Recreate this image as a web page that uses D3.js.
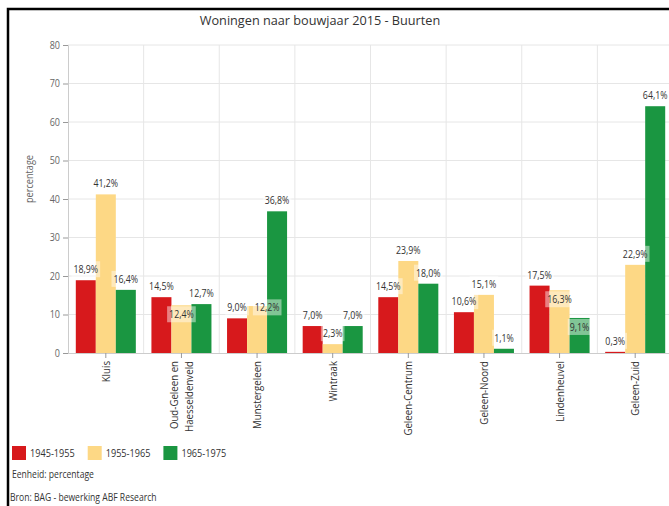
<!DOCTYPE html>
<html>
<head>
<meta charset="utf-8">
<script src="https://cdn.jsdelivr.net/npm/d3@7"></script>
<style>
  body { margin: 0; background: #fff; }
  svg { display: block; font-family: "Open Sans", "DejaVu Sans", sans-serif; }
</style>
</head>
<body>
<script>
// Data
const categories = ["Kluis", "Oud-Geleen en Haesseldenveld", "Munstergeleen", "Wintraak",
    "Geleen-Centrum", "Geleen-Noord", "Lindenheuvel", "Geleen-Zuid"];
const seriesNames = ["1945-1955", "1955-1965", "1965-1975"];
const values1945 = [18.9, 14.5, 9.0, 7.0, 14.5, 10.6, 17.5, 0.3];
const values1955 = [41.2, 12.4, 12.2, 2.3, 23.9, 15.1, 16.3, 22.9];
const values1965 = [16.4, 12.7, 36.8, 7.0, 18.0, 1.1, 9.1, 64.1];
const yTicks = [0, 10, 20, 30, 40, 50, 60, 70, 80];
const colors = ["#d7191c", "#fdd885", "#1a9641"];

const seriesValues = [values1945, values1955, values1965];

// Dimensions
const width = 669;
const height = 506;
const margin = { top: 45, left: 68, bottom: 153 };
const plotWidth = 605;
const plotHeight = height - margin.top - margin.bottom;

const svg = d3.select("body")
    .append("svg")
    .attr("width", width)
    .attr("height", height);

// The source font is narrow, squeeze Open Sans a bit.
// Returns the squeezed width of the last text.
function condense(sel, k) {
    let out = 0;
    sel.each(function() {
        const len = this.getComputedTextLength();
        out = len * k;
        d3.select(this)
            .attr("textLength", out)
            .attr("lengthAdjust", "spacingAndGlyphs");
    });
    return out;
}

// Scales
const x = d3.scaleBand()
    .domain(categories)
    .range([margin.left, margin.left + plotWidth]);

const xInner = d3.scaleBand()
    .domain(seriesNames)
    .range([0, x.bandwidth()])
    .paddingOuter(0.39)
    .paddingInner(0);

const y = d3.scaleLinear()
    .domain([0, 80])
    .range([margin.top + plotHeight, margin.top]);

// Title
condense(svg.append("text")
    .attr("x", 320)
    .attr("y", 25)
    .attr("text-anchor", "middle")
    .attr("font-size", 13.5)
    .attr("fill", "#333")
    .text("Woningen naar bouwjaar 2015 - Buurten"), 0.94);

// Grid lines
svg.append("g")
    .selectAll("line")
    .data(yTicks.filter(d => d > 0))
    .join("line")
    .attr("x1", margin.left)
    .attr("x2", width)
    .attr("y1", d => y(d))
    .attr("y2", d => y(d))
    .attr("stroke", "#e6e6e6");

svg.append("g")
    .selectAll("line")
    .data(categories)
    .join("line")
    .attr("x1", d => x(d) + x.bandwidth())
    .attr("x2", d => x(d) + x.bandwidth())
    .attr("y1", margin.top)
    .attr("y2", y(0))
    .attr("stroke", "#e6e6e6");

// Y axis
const yAxis = svg.append("g")
    .attr("transform", `translate(${margin.left},0)`)
    .call(d3.axisLeft(y).tickValues(yTicks).tickSize(5).tickPadding(3));
yAxis.select(".domain").attr("stroke", "#ccc");
yAxis.selectAll(".tick line").attr("stroke", "#999");
yAxis.selectAll(".tick text")
    .attr("font-size", 10)
    .attr("fill", "#666")
    .attr("font-family", "Open Sans, sans-serif")
    .each(function() { condense(d3.select(this), 0.9); });

condense(svg.append("text")
    .attr("transform", `translate(33,179) rotate(-90)`)
    .attr("text-anchor", "middle")
    .attr("font-size", 11)
    .attr("fill", "#666")
    .text("percentage"), 0.83);

// Bars
const groups = svg.append("g")
    .selectAll("g")
    .data(categories)
    .join("g")
    .attr("transform", d => `translate(${x(d)},0)`);

groups.selectAll("rect")
    .data((d, i) => seriesNames.map((s, j) => ({ s, j, v: seriesValues[j][i] })))
    .join("rect")
    .attr("x", d => xInner(d.s))
    .attr("width", xInner.bandwidth())
    .attr("y", d => y(d.v))
    .attr("height", d => y(0) - y(d.v))
    .attr("fill", d => colors[d.j]);

// X axis
const xAxis = svg.append("g")
    .attr("transform", `translate(0,${y(0)})`)
    .call(d3.axisBottom(x).tickSize(5).tickFormat(""));
xAxis.select(".domain").attr("stroke", "#ccc").attr("d", `M${margin.left},0.5H${width}`);
xAxis.selectAll(".tick line").attr("stroke", "#999");

// Rotated category labels
const wrap = name => name.length > 16
    ? [name.slice(0, name.lastIndexOf(" ")), name.slice(name.lastIndexOf(" ") + 1)]
    : [name];

svg.append("g")
    .selectAll("text")
    .data(categories)
    .join("text")
    .attr("transform", d => `translate(${x(d) + x.bandwidth() / 2},${y(0) + 8}) rotate(-90)`)
    .attr("text-anchor", "end")
    .attr("font-size", 11)
    .attr("fill", "#333")
    .each(function(d) {
        const lines = wrap(d);
        const t = d3.select(this);
        lines.forEach((line, k) => {
            condense(t.append("tspan")
                .attr("x", 0)
                .attr("y", 4 + (k - (lines.length - 1) / 2) * 15)
                .text(line), 0.88);
        });
    });

// Value labels: above the bar, moved inside when they bump into a neighbour,
// and pushed sideways if that still collides
const fmt = v => v.toFixed(1).replace(".", ",") + "%";
const labelLayer = svg.append("g");

categories.forEach((cat, i) => {
    const placed = [];
    seriesNames.forEach((s, j) => {
        const v = seriesValues[j][i];
        let cx = x(cat) + xInner(s) + xInner.bandwidth() / 2;
        const g = labelLayer.append("g");
        const rect = g.append("rect").attr("fill", "rgba(255,255,255,0.45)");
        const txt = g.append("text")
            .attr("text-anchor", "middle")
            .attr("font-size", 11)
            .attr("fill", "#333")
            .text(fmt(v));
        const w = condense(txt, 0.8);
        let cy = y(v) - 11;
        const hits = p => Math.abs(p.cx - cx) < (p.w + w) / 2 + 4 && Math.abs(p.cy - cy) < 14;
        if (placed.some(hits)) {
            cy = y(v) + 9;
            const other = placed.find(hits);
            if (other) {
                cy = other.cy;
                cx = other.cx + (other.w + w) / 2 + 8;
            }
        }
        txt.attr("x", cx).attr("y", cy + 4);
        rect.attr("x", cx - w / 2 - 2).attr("y", cy - 8).attr("width", w + 4).attr("height", 16);
        placed.push({ cx, cy, w });
    });
});

// Legend
let lx = 12;
seriesNames.forEach((name, i) => {
    const g = svg.append("g").attr("transform", `translate(${lx},446)`);
    g.append("rect")
        .attr("width", 14)
        .attr("height", 14)
        .attr("fill", colors[i]);
    const w = condense(g.append("text")
        .attr("x", 18)
        .attr("y", 11)
        .attr("font-size", 11)
        .attr("fill", "#333")
        .text(name), 0.83);
    lx += 18 + w + 13;
});

condense(svg.append("text")
    .attr("x", 12)
    .attr("y", 478)
    .attr("font-size", 11)
    .attr("fill", "#333")
    .text("Eenheid: percentage"), 0.78);

condense(svg.append("text")
    .attr("x", 10)
    .attr("y", 501)
    .attr("font-size", 11)
    .attr("fill", "#333")
    .text("Bron: BAG - bewerking ABF Research"), 0.78);

// Frame
svg.append("path")
    .attr("d", `M8,${height}V9H${width}`)
    .attr("fill", "none")
    .attr("stroke", "#000")
    .attr("stroke-width", 2.5);
</script>
</body>
</html>
